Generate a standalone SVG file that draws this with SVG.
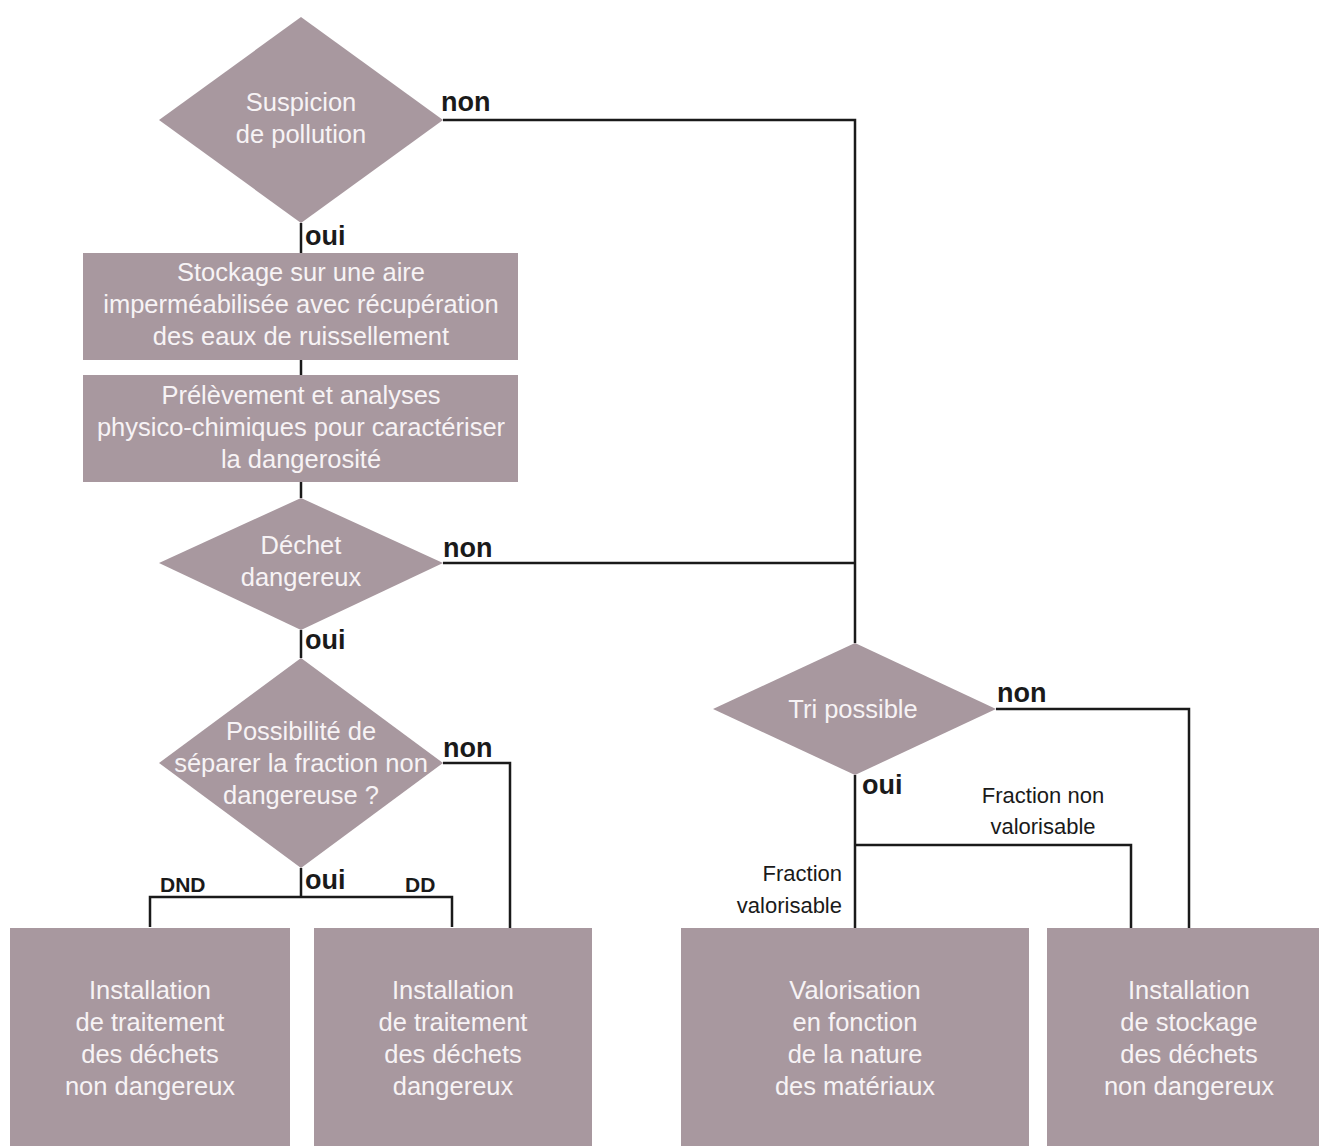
<svg xmlns="http://www.w3.org/2000/svg" width="1319" height="1146" viewBox="0 0 1319 1146">
<style>
.n{fill:#a8989f}
.t{font-family:"Liberation Sans Narrow","Liberation Sans",sans-serif;font-size:25.5px;fill:#f7f3f5;text-anchor:middle}
.l{font-family:"Liberation Sans Narrow","Liberation Sans",sans-serif;font-size:27px;font-weight:bold;fill:#1a1a1a}
.s{font-family:"Liberation Sans Narrow","Liberation Sans",sans-serif;font-size:22px;fill:#1a1a1a}
.b{font-weight:bold;font-size:21px}
.c{fill:none;stroke:#1a1a1a;stroke-width:2.5}
</style>
<rect width="1319" height="1146" fill="#ffffff"/>
<g id="connectors">
<path class="c" d="M301 223V253M301 360V375M301 482V498M301 630V658M301 868V897M150 927V897H452V927"/>
<path class="c" d="M443 120H855V643M443 563H855M443 763H510V928"/>
<path class="c" d="M996 709H1189V928M855 775V928M855 845H1131V928"/>
</g>
<g id="labels">
<text class="l" x="441" y="111">non</text>
<text class="l" x="305" y="245">oui</text>
<text class="l" x="443" y="557">non</text>
<text class="l" x="305" y="649">oui</text>
<text class="l" x="443" y="757">non</text>
<text class="l" x="305" y="889">oui</text>
<text class="s b" x="160" y="892">DND</text>
<text class="s b" x="405" y="892">DD</text>
<text class="l" x="997" y="702">non</text>
<text class="l" x="862" y="794">oui</text>
<text class="s" x="1043" y="803" text-anchor="middle">Fraction non</text>
<text class="s" x="1043" y="834" text-anchor="middle">valorisable</text>
<text class="s" x="842" y="881" text-anchor="end">Fraction</text>
<text class="s" x="842" y="913" text-anchor="end">valorisable</text>
</g>
<g id="d1"><polygon class="n" points="301,17 443,120 301,223 159,120"/>
<text class="t" x="301" y="111">Suspicion</text><text class="t" x="301" y="143">de pollution</text></g>
<g id="b1"><rect class="n" x="83" y="253" width="435" height="107"/>
<text class="t" x="301" y="281">Stockage sur une aire</text><text class="t" x="301" y="313">imperméabilisée avec récupération</text><text class="t" x="301" y="345">des eaux de ruissellement</text></g>
<g id="b2"><rect class="n" x="83" y="375" width="435" height="107"/>
<text class="t" x="301" y="404">Prélèvement et analyses</text><text class="t" x="301" y="436">physico-chimiques pour caractériser</text><text class="t" x="301" y="468">la dangerosité</text></g>
<g id="d2"><polygon class="n" points="301,498 443,563 301,630 159,563"/>
<text class="t" x="301" y="554">Déchet</text><text class="t" x="301" y="586">dangereux</text></g>
<g id="d3"><polygon class="n" points="301,658 443,763 301,868 159,763"/>
<text class="t" x="301" y="740">Possibilité de</text><text class="t" x="301" y="772">séparer la fraction non</text><text class="t" x="301" y="804">dangereuse ?</text></g>
<g id="d4"><polygon class="n" points="855,643 996,709 855,775 713,709"/>
<text class="t" x="853" y="718">Tri possible</text></g>
<g id="b3"><rect class="n" x="10" y="928" width="280" height="218"/>
<text class="t" x="150" y="999">Installation</text><text class="t" x="150" y="1031">de traitement</text><text class="t" x="150" y="1063">des déchets</text><text class="t" x="150" y="1095">non dangereux</text></g>
<g id="b4"><rect class="n" x="314" y="928" width="278" height="218"/>
<text class="t" x="453" y="999">Installation</text><text class="t" x="453" y="1031">de traitement</text><text class="t" x="453" y="1063">des déchets</text><text class="t" x="453" y="1095">dangereux</text></g>
<g id="b5"><rect class="n" x="681" y="928" width="348" height="218"/>
<text class="t" x="855" y="999">Valorisation</text><text class="t" x="855" y="1031">en fonction</text><text class="t" x="855" y="1063">de la nature</text><text class="t" x="855" y="1095">des matériaux</text></g>
<g id="b6"><rect class="n" x="1047" y="928" width="272" height="218"/>
<text class="t" x="1189" y="999">Installation</text><text class="t" x="1189" y="1031">de stockage</text><text class="t" x="1189" y="1063">des déchets</text><text class="t" x="1189" y="1095">non dangereux</text></g>
</svg>
